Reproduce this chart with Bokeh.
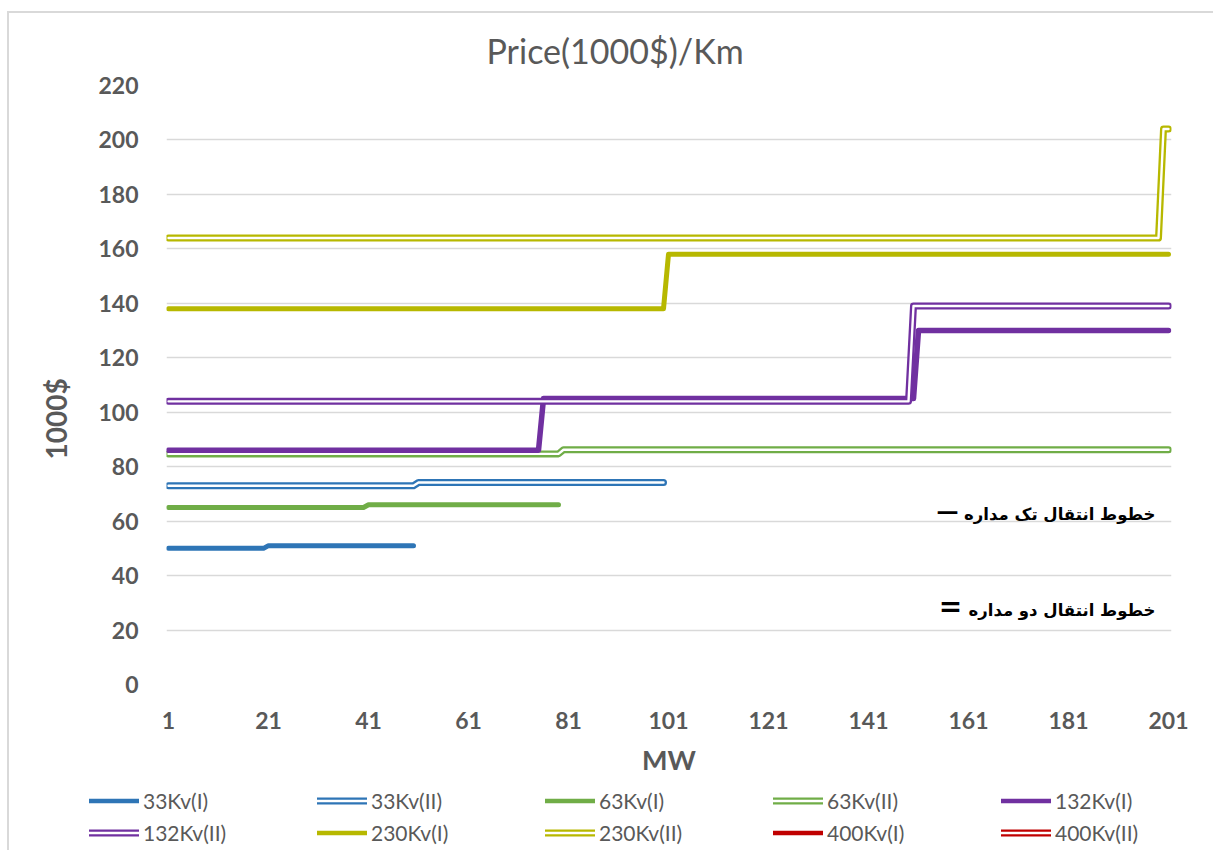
import math
from bokeh.plotting import figure
from bokeh.layouts import column, row
from bokeh.models import Range1d, FixedTicker, Legend, LegendItem, Label, Title
from bokeh.embed import file_html
from bokeh.resources import INLINE

# ---------------- data (vertices of each stepped series: MW -> 1000$) ----------------
x_ticks = [1, 21, 41, 61, 81, 101, 121, 141, 161, 181, 201]
y_ticks = [0, 20, 40, 60, 80, 100, 120, 140, 160, 180, 200, 220]

x_33_i = [1, 20, 21, 50]
y_33_i = [50, 50, 51, 51]
x_33_ii = [1, 50, 51, 100]
y_33_ii = [73, 73, 74.2, 74.2]
x_63_i = [1, 40, 41, 79]
y_63_i = [65, 65, 66, 66]
x_63_ii = [1, 79, 80, 201]
y_63_ii = [84.7, 84.7, 86.2, 86.2]
x_132_i = [1, 75, 76, 150, 151, 201]
y_132_i = [86, 86, 105, 105, 130, 130]
x_132_ii = [1, 149, 150, 201]
y_132_ii = [104, 104, 139, 139]
x_230_i = [1, 100, 101, 201]
y_230_i = [138, 138, 158, 158]
x_230_ii = [1, 199, 200, 201]
y_230_ii = [164, 164, 204, 204]
x_400_i, y_400_i = [], []
x_400_ii, y_400_ii = [], []

series_names = ["33Kv(I)", "33Kv(II)", "63Kv(I)", "63Kv(II)", "132Kv(I)",
                "132Kv(II)", "230Kv(I)", "230Kv(II)", "400Kv(I)", "400Kv(II)"]

BLUE, GREEN, PURPLE, OLIVE, RED = "#2E75B6", "#70AD47", "#7030A0", "#B7B800", "#C00000"
GRAY = "#595959"

p = figure(width=1205, height=774, x_range=Range1d(0.6, 201.6), y_range=Range1d(0, 220),
           output_backend="svg", toolbar_location=None,
           min_border_left=157, min_border_right=43, min_border_top=71, min_border_bottom=103)
p.outline_line_color = None
p.background_fill_color = "white"
p.border_fill_color = "white"

p.title = Title(text="Price(1000$)/Km", align="left", offset=320, text_font="Lato",
                text_font_size="34px", text_font_style="normal", text_color=GRAY, standoff=29)

p.xgrid.grid_line_color = None
p.ygrid.grid_line_color = "#D9D9D9"
p.ygrid.grid_line_width = 1.6

for ax in (p.xaxis[0], p.yaxis[0]):
    ax.axis_line_color = None
    ax.major_tick_line_color = None
    ax.minor_tick_line_color = None
    ax.major_tick_out = 0
    ax.major_tick_in = 0
    ax.major_label_text_font = "Lato"
    ax.major_label_text_font_size = "23px"
    ax.major_label_text_font_style = "bold"
    ax.major_label_text_color = GRAY

p.xaxis.ticker = FixedTicker(ticks=x_ticks)
p.yaxis.ticker = FixedTicker(ticks=y_ticks)
p.ygrid.ticker = FixedTicker(ticks=y_ticks)
p.xaxis.major_label_standoff = 27
p.yaxis.major_label_standoff = 28
p.xaxis.axis_label = "MW"
p.xaxis.axis_label_text_font = "Lato"
p.xaxis.axis_label_text_font_size = "27px"
p.xaxis.axis_label_text_font_style = "bold"
p.xaxis.axis_label_text_color = GRAY
p.xaxis.axis_label_standoff = 11

# y axis title, placed below the frame centre as in the reference
p.add_layout(Title(text="1000$", align="left", offset=225, text_font="Lato",
                   text_font_size="28px", text_font_style="bold", text_color=GRAY,
                   standoff=46), "left")

LINE_KW = dict(line_cap="round", line_join="round")


def single(fig, xs, ys, color, w=5):
    return [fig.line(xs, ys, line_color=color, line_width=w, **LINE_KW)]


def double(fig, xs, ys, color):
    outer = fig.line(xs, ys, line_color=color, line_width=7, **LINE_KW)
    inner = fig.line(xs, ys, line_color="white", line_width=2.4, **LINE_KW)
    return [outer, inner]


single(p, x_33_i, y_33_i, BLUE)
double(p, x_33_ii, y_33_ii, BLUE)
single(p, x_63_i, y_63_i, GREEN)
double(p, x_63_ii, y_63_ii, GREEN)
single(p, x_132_i, y_132_i, PURPLE, 5.5)
double(p, x_132_ii, y_132_ii, PURPLE)
single(p, x_230_i, y_230_i, OLIVE)
double(p, x_230_ii, y_230_ii, OLIVE)
single(p, x_400_i, y_400_i, RED)
double(p, x_400_ii, y_400_ii, RED)

# Persian notes
fa_kw = dict(text_font="DejaVu Sans", text_font_style="bold", text_color="black")
p.add_layout(Label(x=198.4, y=62.3, text="خطوط انتقال تک مداره", text_align="right",
                   text_baseline="alphabetic", text_font_size="16.5px", **fa_kw))
p.add_layout(Label(x=198.4, y=27.1, text="خطوط انتقال دو مداره", text_align="right",
                   text_baseline="alphabetic", text_font_size="16.5px", **fa_kw))
p.add_layout(Label(x=156.8, y=63.4, text="—", text_align="center", text_baseline="middle",
                   text_font_size="22px", **fa_kw))
p.add_layout(Label(x=157.4, y=28.6, text="=", text_align="center", text_baseline="middle",
                   text_font_size="28px", **fa_kw))

# ---------------- legend strip (separate figure below the chart) ----------------
lf = figure(width=1205, height=64, x_range=Range1d(0, 1), y_range=Range1d(0, 1),
            x_axis_type=None, y_axis_type=None,
            output_backend="svg", toolbar_location=None, min_border=0,
            min_border_left=0, min_border_right=0, min_border_top=0, min_border_bottom=0)
lf.grid.visible = False
lf.outline_line_color = None
lf.border_fill_color = "white"

styles = [(BLUE, False), (BLUE, True), (GREEN, False), (GREEN, True), (PURPLE, False),
          (PURPLE, True), (OLIVE, False), (OLIVE, True), (RED, False), (RED, True)]
nan = float("nan")
leg_renderers = []
for color, dbl in styles:
    # legend-only swatches: a single undefined point, nothing is drawn in the strip
    if dbl:
        leg_renderers.append(double(lf, [nan], [nan], color))
    else:
        leg_renderers.append(single(lf, [nan], [nan], color, 4.5))

for r in range(2):
    items = [LegendItem(label=series_names[k], renderers=leg_renderers[k])
             for k in range(r * 5, r * 5 + 5)]
    leg = Legend(items=items, orientation="horizontal", location=(80, 38.5 - 32 * r),
                 glyph_width=50, glyph_height=25, label_standoff=4, label_width=174,
                 label_height=25, spacing=0, padding=0, margin=0,
                 border_line_color=None, background_fill_alpha=0,
                 label_text_font="Lato", label_text_font_size="21px", label_text_color=GRAY)
    lf.add_layout(leg, "center")

layout = column(p, row(lf), spacing=0)
layout.margin = (11, 0, 0, 7)
layout.styles = {"border-left": "2px solid #D9D9D9", "border-top": "2px solid #D9D9D9"}

open("out.html", "w").write(file_html(layout, INLINE))
